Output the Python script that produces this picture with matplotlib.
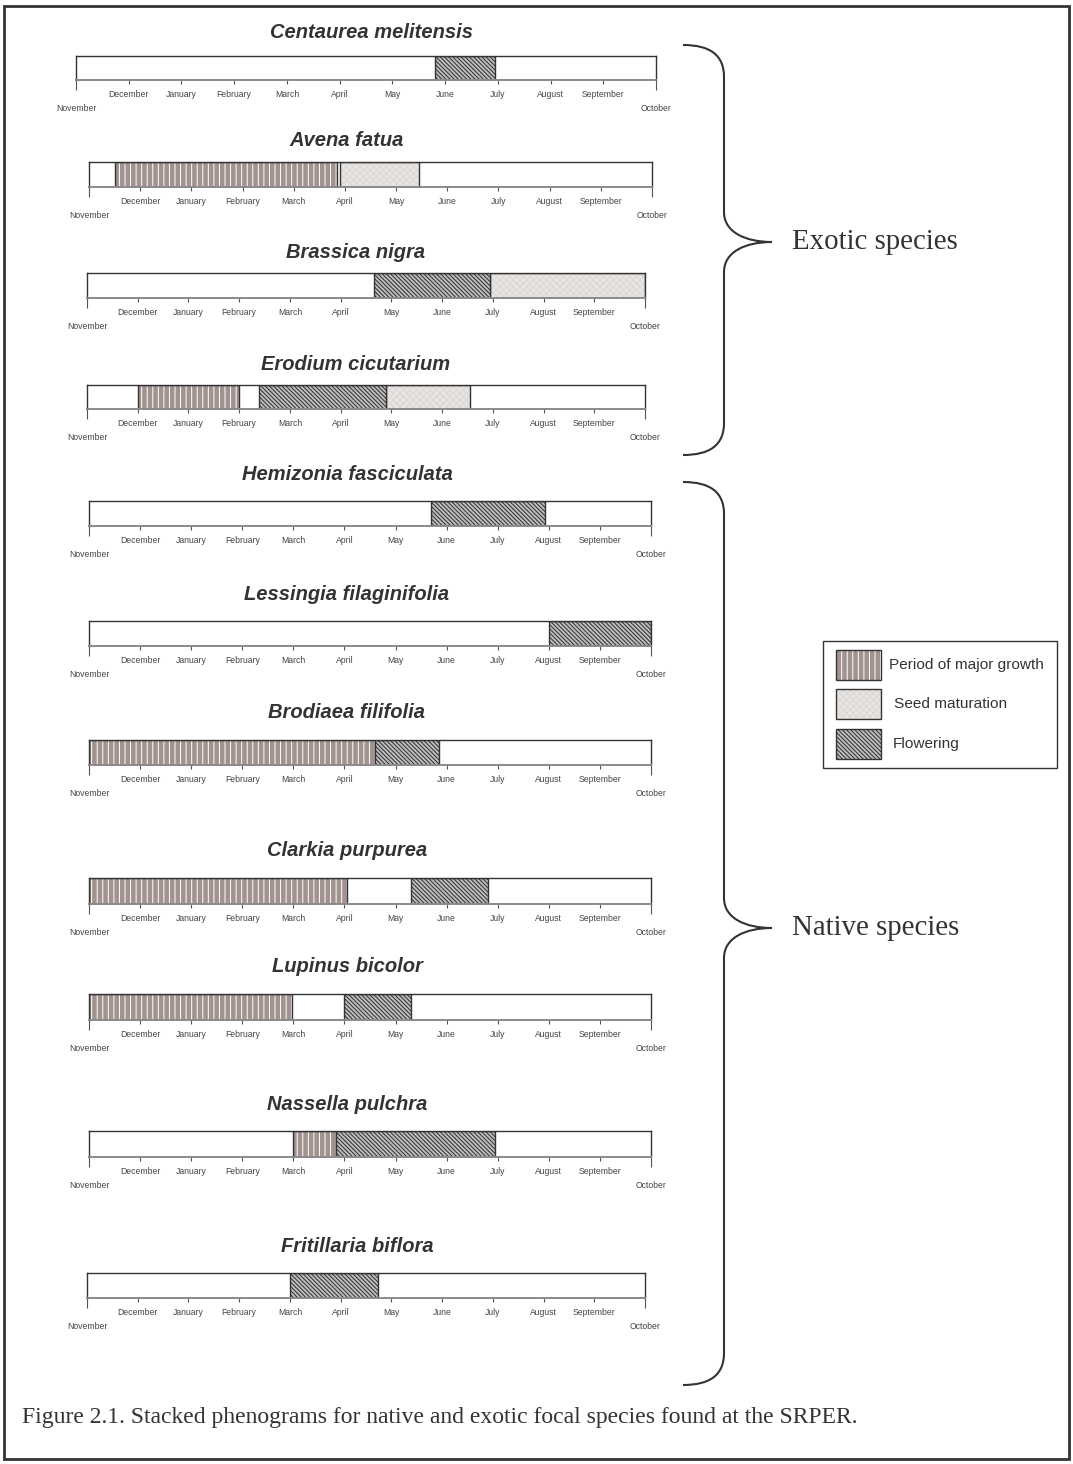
import matplotlib.pyplot as plt
from matplotlib.patches import Rectangle, PathPatch
from matplotlib.path import Path

plt.rcParams['font.family'] = ['Liberation Sans', 'DejaVu Sans']
plt.rcParams['hatch.linewidth'] = 0.7

W, H = 1073, 1464

# ---- data: month positions, 0 = start of November ... 11 = October
months = ['November', 'December', 'January', 'February', 'March', 'April',
          'May', 'June', 'July', 'August', 'September', 'October']

species = ['Centaurea melitensis', 'Avena fatua', 'Brassica nigra',
           'Erodium cicutarium', 'Hemizonia fasciculata',
           'Lessingia filaginifolia', 'Brodiaea filifolia', 'Clarkia purpurea',
           'Lupinus bicolor', 'Nassella pulchra', 'Fritillaria biflora']

growth = [None, (0.5, 4.85), None, (1.0, 3.0), None, None,
          (0.0, 5.6), (0.0, 5.05), (0.0, 3.98), (4.0, 4.83), None]
seed = [None, (4.9, 6.45), (7.94, 11.0), (5.9, 7.55), None, None,
        None, None, None, None, None]
flowering = [(6.8, 7.95), None, (5.65, 7.94), (3.4, 5.9), (6.7, 8.93),
             (9.0, 11.0), (5.6, 6.85), (6.3, 7.8), (5.0, 6.3), (4.83, 7.94),
             (4.0, 5.73)]

groups = ['Exotic species', 'Native species']
legend_labels = ['Period of major growth', 'Seed maturation', 'Flowering']
caption = ('Figure 2.1. Stacked phenograms for native and exotic focal species '
           'found at the SRPER.')

# ---- layout (pixels): bar left, right, top, bottom
boxes = [(76, 656, 56, 80), (89, 652, 162, 187), (87, 645, 273, 298),
         (87, 645, 385, 409), (89, 651, 501, 526), (89, 651, 621, 646),
         (89, 651, 740, 765), (89, 651, 878, 904), (89, 651, 994, 1020),
         (89, 651, 1131, 1157), (87, 645, 1273, 1298)]
title_xy = [(371, 32), (347, 140), (356, 253), (356, 365), (347, 475),
            (347, 594), (347, 713), (347, 851), (347, 967), (347, 1104),
            (357, 1246)]

dark = '#333333'
st_growth = dict(facecolor='#a29390', edgecolor='white', hatch='|||')
st_seed = dict(facecolor='#e8e5e3', edgecolor='#dbd7d5', hatch='xxxxx')
st_flower = dict(facecolor='#bdbdbd', edgecolor='#2e2e2e',
                 hatch='\\\\\\\\\\\\\\\\')

fig = plt.figure(figsize=(W / 100, H / 100), dpi=100)
bg = fig.add_axes([0, 0, 1, 1])
bg.set_xlim(0, W)
bg.set_ylim(H, 0)
bg.axis('off')


def seg(ax, span, st):
    if span is None:
        return
    a, b = span
    ax.barh(0.5, b - a, left=a, height=1, linewidth=0, **st)
    ax.barh(0.5, b - a, left=a, height=1, fill=False, edgecolor=dark,
            linewidth=1)


for i, name in enumerate(species):
    l, r, t, b = boxes[i]
    ax = fig.add_axes([l / W, 1 - b / H, (r - l) / W, (b - t) / H])
    ax.set_xlim(0, 11)
    ax.set_ylim(0, 1)
    seg(ax, growth[i], st_growth)
    seg(ax, seed[i], st_seed)
    seg(ax, flowering[i], st_flower)
    ax.set_yticks([])
    for s in ['top', 'left', 'right']:
        ax.spines[s].set_color(dark)
        ax.spines[s].set_linewidth(1)
    ax.spines['bottom'].set_color('#8a8a8a')
    ax.spines['bottom'].set_linewidth(1.4)
    ax.set_xticks(range(1, 11))
    ax.set_xticklabels(months[1:11])
    ax.set_xticks([0, 11], minor=True)
    ax.set_xticklabels([months[0], months[11]], minor=True)
    ax.tick_params(axis='x', which='major', length=3.2, width=0.8,
                   color='#555555', pad=4.3, labelsize=6.2, labelcolor='#444444')
    ax.tick_params(axis='x', which='minor', length=7.2, width=0.8,
                   color='#555555', pad=10.3, labelsize=6.2,
                   labelcolor='#444444')
    tx, ty = title_xy[i]
    bg.text(tx, ty, name, ha='center', va='center', fontsize=14.5,
            fontweight='bold', fontstyle='italic', color=dark)


# braces
def brace(y0, y1, ym):
    x0, xb, xt = 683, 724, 772
    verts = [(x0, y0), (710, y0), (xb, y0 + 10), (xb, y0 + 32),
             (xb, ym - 30),
             (xb, ym - 10), (745, ym), (xt, ym),
             (745, ym), (xb, ym + 10), (xb, ym + 30),
             (xb, y1 - 32),
             (xb, y1 - 10), (710, y1), (x0, y1)]
    codes = [Path.MOVETO, Path.CURVE4, Path.CURVE4, Path.CURVE4,
             Path.LINETO,
             Path.CURVE4, Path.CURVE4, Path.CURVE4,
             Path.CURVE4, Path.CURVE4, Path.CURVE4,
             Path.LINETO,
             Path.CURVE4, Path.CURVE4, Path.CURVE4]
    bg.add_patch(PathPatch(Path(verts, codes), fill=False, edgecolor=dark,
                           linewidth=1.5))


brace(45, 455, 242)
brace(482, 1385, 928)
bg.text(792, 242, groups[0], ha='left', va='center', fontsize=20.8,
        family='Liberation Serif', color=dark)
bg.text(792, 928, groups[1], ha='left', va='center', fontsize=20.8,
        family='Liberation Serif', color=dark)

# legend
bg.add_patch(Rectangle((823, 641), 234, 127, fill=False, edgecolor=dark,
                       linewidth=1))
leg_rows = [(650, 889, st_growth), (689, 894, st_seed), (729, 893, st_flower)]
for (y, xt, st), lab in zip(leg_rows, legend_labels):
    bg.add_patch(Rectangle((836, y), 45, 30, linewidth=0, **st))
    bg.add_patch(Rectangle((836, y), 45, 30, fill=False, edgecolor=dark,
                           linewidth=1))
    bg.text(xt, y + 15, lab, ha='left', va='center', fontsize=11.1,
            color=dark)

# caption and frame
bg.text(22, 1417, caption, ha='left', va='center', fontsize=17,
        family='Liberation Serif', color=dark)
bg.add_patch(Rectangle((4, 6), 1065, 1453, fill=False, edgecolor=dark,
                       linewidth=2))

fig.savefig('out.png', dpi=100)
